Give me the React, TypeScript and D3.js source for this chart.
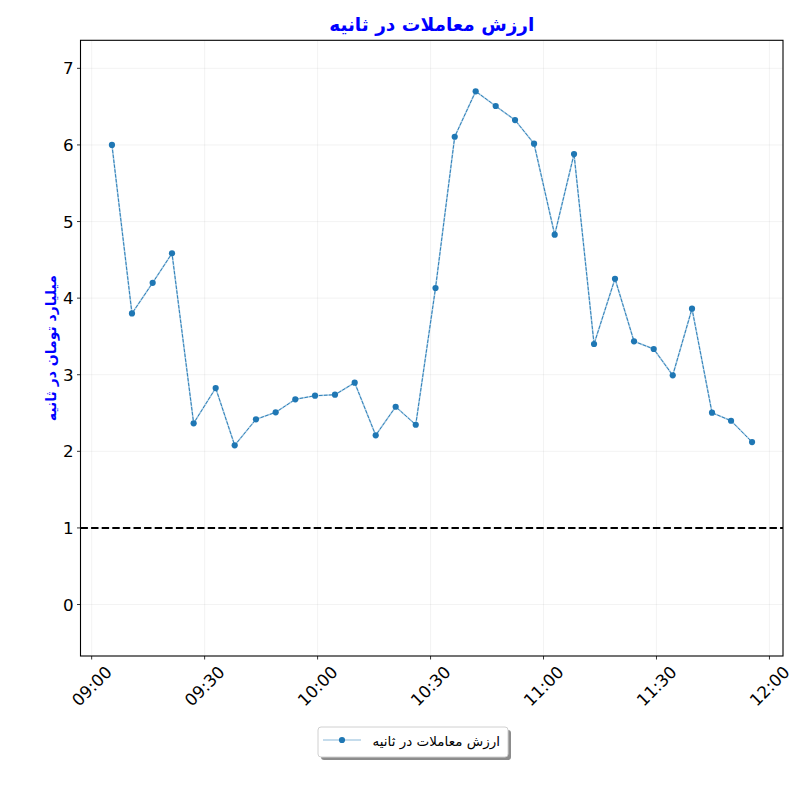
import React from "react";
import * as d3 from "d3";

const times: string[] = [
  "09:05:23", "09:10:42", "09:16:12", "09:21:20", "09:27:05", "09:32:56", "09:37:59",
  "09:43:38", "09:48:52", "09:54:05", "09:59:19", "10:04:37", "10:09:51", "10:15:26",
  "10:20:44", "10:26:04", "10:31:19", "10:36:25", "10:41:59", "10:47:18", "10:52:26",
  "10:57:29", "11:02:58", "11:08:06", "11:13:25", "11:18:59", "11:24:02", "11:29:16",
  "11:34:19", "11:39:26", "11:44:45", "11:49:48", "11:55:23",
];
const values: number[] = [
  6.0, 3.8, 4.2, 4.585, 2.366, 2.826, 2.078, 2.418, 2.509, 2.679, 2.726, 2.739, 2.896,
  2.209, 2.582, 2.347, 4.132, 6.107, 6.7, 6.508, 6.325, 6.016, 4.828, 5.881, 3.401,
  4.253, 3.436, 3.336, 2.992, 3.862, 2.504, 2.399, 2.121,
];
const xTickLabels: string[] = ["09:00", "09:30", "10:00", "10:30", "11:00", "11:30", "12:00"];
const yTicks: number[] = [0, 1, 2, 3, 4, 5, 6, 7];
const threshold = 1;
const title = "ارزش معاملات در ثانیه";
const yLabel = "میلیارد تومان در ثانیه";
const legendLabel = "ارزش معاملات در ثانیه";

const parse = d3.timeParse("%H:%M:%S");
const parseHM = d3.timeParse("%H:%M");

export default function App() {
  const W = 800, H = 800;
  const L = 80.5, R = 783, T = 40.3, B = 656;
  const data = times.map((t, i) => ({ t: parse(t) as Date, v: values[i] }));
  const x0 = parseHM("09:00") as Date;
  const x = d3
    .scaleTime()
    .domain([d3.timeSecond.offset(x0, -178), d3.timeSecond.offset(x0, 11016)])
    .range([L, R]);
  const y = d3.scaleLinear().domain([-0.672, 7.366]).range([B, T]);
  const xt = xTickLabels.map((s) => parseHM(s) as Date);
  const line = d3
    .line<{ t: Date; v: number }>()
    .x((d) => x(d.t))
    .y((d) => y(d.v));
  const path = line(data) || "";
  const font = "DejaVu Sans, sans-serif";
  const blue = "#1f77b4";
  const legX = 318, legY = 727, legW = 190, legH = 30;
  return (
    <svg width={W} height={H} style={{ position: "absolute", left: 0, top: 0, background: "#fff" }}>
      <rect x={0} y={0} width={W} height={H} fill="#fff" />
      {/* grid */}
      {yTicks.map((v) => (
        <line key={"gy" + v} x1={L} x2={R} y1={y(v)} y2={y(v)} stroke="#b0b0b0" strokeOpacity={0.2} strokeWidth={0.8} />
      ))}
      {xt.map((d, i) => (
        <line key={"gx" + i} x1={x(d)} x2={x(d)} y1={T} y2={B} stroke="#b0b0b0" strokeOpacity={0.2} strokeWidth={0.8} />
      ))}
      {/* threshold */}
      <line x1={L} x2={R} y1={y(threshold)} y2={y(threshold)} stroke="#000" strokeWidth={2} strokeDasharray="7.4,3.2" />
      {/* data */}
      <path d={path} fill="none" stroke={blue} strokeOpacity={0.35} strokeWidth={1.6} />
      <path d={path} fill="none" stroke={blue} strokeWidth={0.9} strokeDasharray="3.5,1.4" />
      {data.map((d, i) => (
        <circle key={"p" + i} cx={x(d.t)} cy={y(d.v)} r={3.1} fill={blue} />
      ))}
      {/* frame */}
      <rect x={L} y={T} width={R - L} height={B - T} fill="none" stroke="#000" strokeWidth={1.1} />
      {/* y ticks */}
      {yTicks.map((v) => (
        <g key={"ty" + v}>
          <line x1={L - 3.5} x2={L} y1={y(v)} y2={y(v)} stroke="#000" strokeWidth={0.8} />
          <text x={L - 7} y={y(v)} textAnchor="end" dominantBaseline="central" fontFamily={font} fontSize={16.7} fill="#000">
            {v}
          </text>
        </g>
      ))}
      {/* x ticks */}
      {xt.map((d, i) => (
        <g key={"tx" + i}>
          <line x1={x(d)} x2={x(d)} y1={B} y2={B + 3.5} stroke="#000" strokeWidth={0.8} />
          <text
            x={x(d)}
            y={686}
            textAnchor="middle"
            dominantBaseline="central"
            fontFamily={font}
            fontSize={16.7}
            fill="#000"
            transform={`rotate(-45 ${x(d)} 686)`}
          >
            {xTickLabels[i]}
          </text>
        </g>
      ))}
      {/* title */}
      <text x={(L + R) / 2} y={31} textAnchor="middle" fontFamily={font} fontWeight="bold" fontSize={18.5} fill="#0000ff" direction="rtl">
        {title}
      </text>
      {/* y label */}
      <text
        x={51}
        y={(T + B) / 2}
        textAnchor="middle"
        dominantBaseline="central"
        fontFamily={font}
        fontWeight="bold"
        fontSize={14}
        fill="#0000ff"
        transform={`rotate(-90 51 ${(T + B) / 2})`}
      >
        {yLabel}
      </text>
      {/* legend */}
      <rect x={legX + 3} y={legY + 3} width={legW} height={legH} rx={3} fill="#000" fillOpacity={0.45} />
      <rect x={legX} y={legY} width={legW} height={legH} rx={3} fill="#fff" stroke="#d0d0d0" strokeWidth={1} />
      <line x1={legX + 5} x2={legX + 43} y1={legY + 13} y2={legY + 13} stroke={blue} strokeOpacity={0.35} strokeWidth={1.6} />
      <circle cx={legX + 24} cy={legY + 13} r={3.1} fill={blue} />
      <text x={legX + legW - 8} y={legY + 14} textAnchor="start" direction="rtl" dominantBaseline="central" fontFamily={font} fontSize={13.5} fill="#000">
        {legendLabel}
      </text>
    </svg>
  );
}
